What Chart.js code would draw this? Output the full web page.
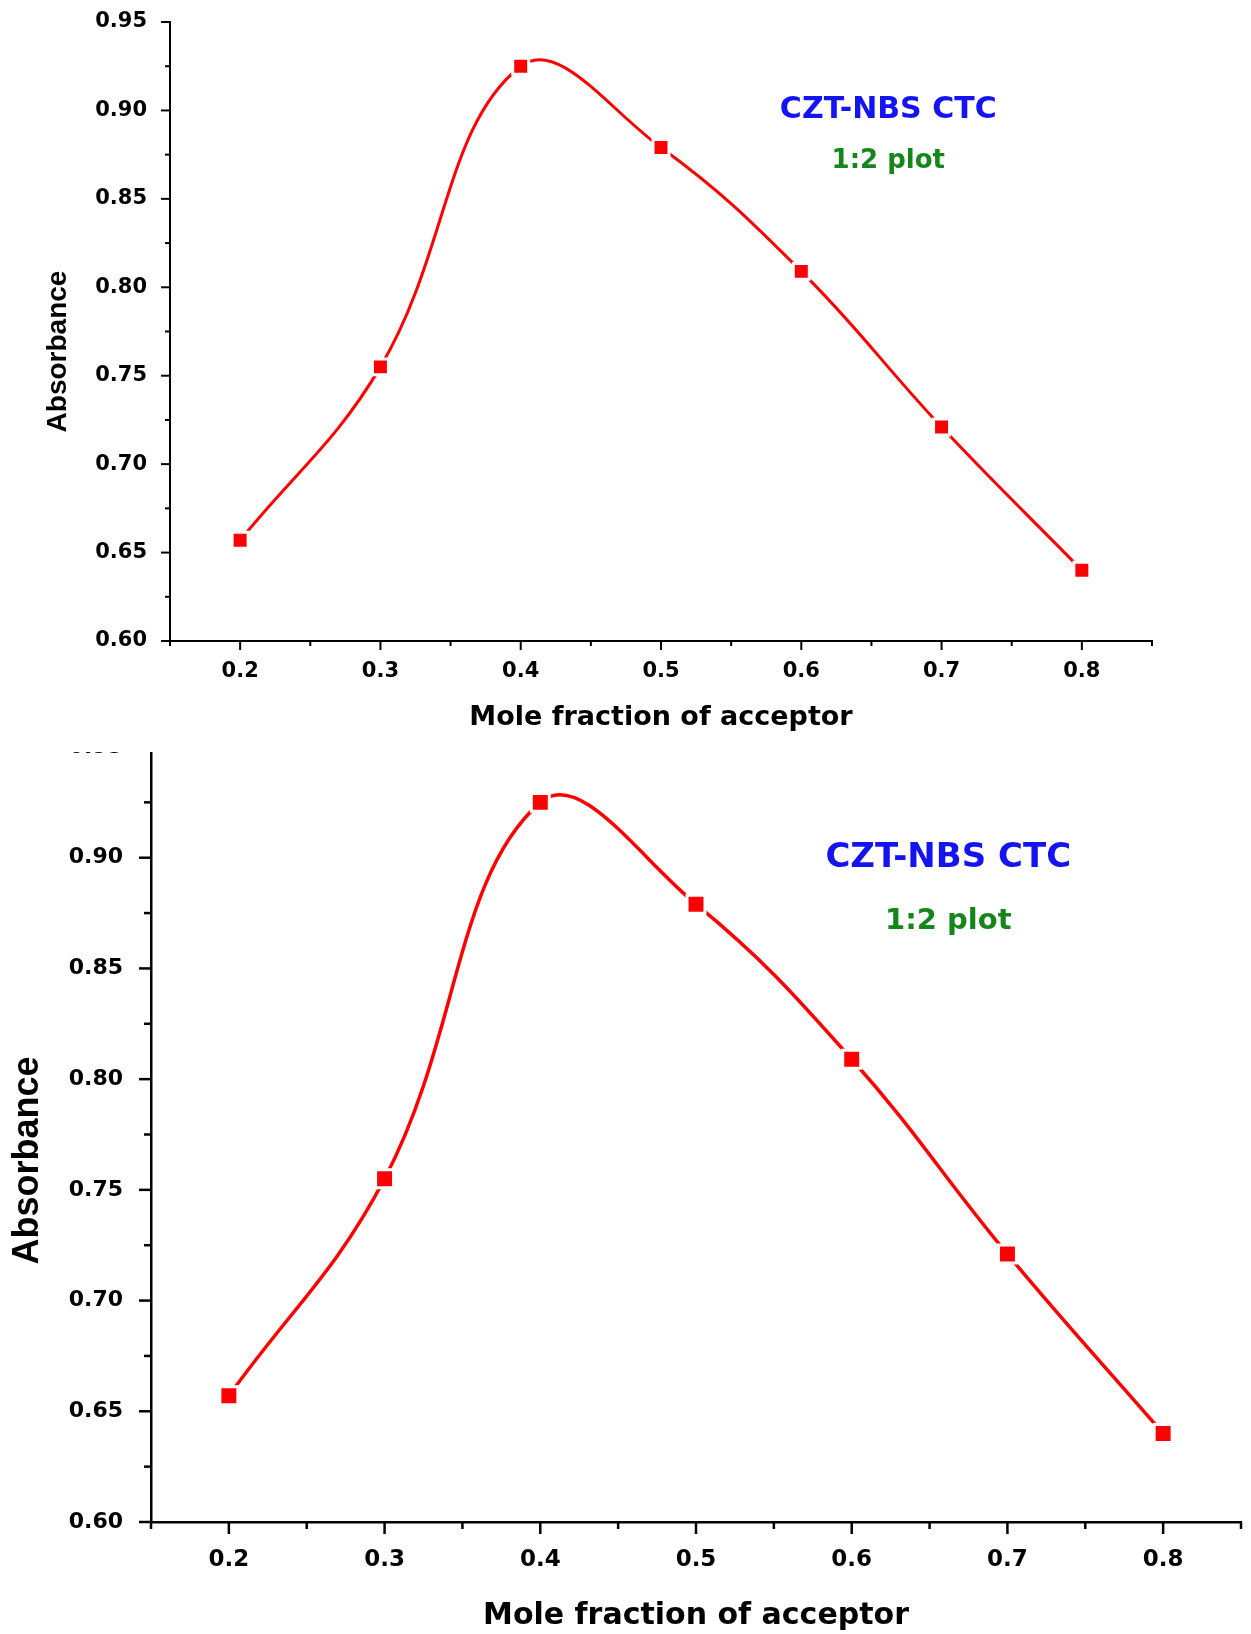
<!DOCTYPE html>
<html lang="en">
<head>
  <meta charset="UTF-8" />
  <title>CZT-NBS CTC | 1:2 plot</title>
  <script src="https://cdn.jsdelivr.net/npm/chart.js"></script>
  <style>
    html, body { margin: 0; padding: 0; background: #fff; }
    body { width: 1251px; height: 1634px; position: relative; overflow: hidden; }
    .panel { position: absolute; left: 0; width: 1251px; background: #fff; overflow: hidden; }
    /* top plot sits over the clipped top edge of the bottom plot */
    #topPanel { top: 0; height: 752px; z-index: 2; }
    #bottomPanel { top: 700px; height: 934px; z-index: 1; }
  </style>
</head>
<body>

  <div id="topPanel" class="panel"><canvas id="topChart"></canvas></div>
  <div id="bottomPanel" class="panel"><canvas id="bottomChart"></canvas></div>

<script>
  // data (both panels show the same series)
  const moleFraction = [0.2, 0.3, 0.4, 0.5, 0.6, 0.7, 0.8];
  const absorbance = [0.657, 0.755, 0.925, 0.879, 0.809, 0.721, 0.640];

  const xTickLabels = ['0.2', '0.3', '0.4', '0.5', '0.6', '0.7', '0.8'];
  const yTickLabels = ['0.60', '0.65', '0.70', '0.75', '0.80', '0.85', '0.90', '0.95'];

  const noteText = ['CZT-NBS CTC', '1:2 plot'];
  const noteColor = ['#1414f0', '#15861a'];
  const noteX = [0.662, 0.662];
  const noteY = [0.900, 0.871];

  function isMajor(v, step) {
    const r = v / step;
    return Math.abs(r - Math.round(r)) < 1e-6;
  }

  // Origin-style outward ticks (major + minor), y title and the text notes
  const originAxes = {
    id: 'originAxes',
    afterDraw(chart, args, opts) {
      const ctx = chart.ctx;
      const { x, y } = chart.scales;
      const area = chart.chartArea;
      ctx.save();
      ctx.strokeStyle = '#000';
      ctx.lineWidth = opts.tickWidth;

      x.ticks.forEach(t => {
        const px = x.getPixelForValue(t.value);
        const len = isMajor(t.value, 0.1) ? opts.major : opts.minor;
        ctx.beginPath();
        ctx.moveTo(px, area.bottom);
        ctx.lineTo(px, area.bottom + len);
        ctx.stroke();
      });
      y.ticks.forEach(t => {
        const py = y.getPixelForValue(t.value);
        const len = isMajor(t.value, 0.05) ? opts.major : opts.minor;
        ctx.beginPath();
        ctx.moveTo(area.left, py);
        ctx.lineTo(area.left - len, py);
        ctx.stroke();
      });

      // y axis title
      ctx.save();
      ctx.translate(opts.yTitleX, (area.top + area.bottom) / 2 + opts.yTitleShift);
      ctx.rotate(-Math.PI / 2);
      ctx.font = `bold ${opts.yTitleSize}px "Liberation Sans", Arial, sans-serif`;
      ctx.fillStyle = '#000';
      ctx.textAlign = 'center';
      ctx.textBaseline = 'middle';
      ctx.fillText('Absorbance', 0, 0);
      ctx.restore();

      // notes
      ctx.textAlign = 'center';
      ctx.textBaseline = 'middle';
      noteText.forEach((txt, i) => {
        ctx.font = `bold ${opts.noteSizes[i]}px "DejaVu Sans", sans-serif`;
        ctx.fillStyle = noteColor[i];
        ctx.fillText(txt, x.getPixelForValue(noteX[i]), y.getPixelForValue(noteY[i]));
      });
      ctx.restore();
    }
  };

  function makeChart(id, c) {
    const canvas = document.getElementById(id);
    canvas.width = c.W;
    canvas.height = c.H;

    const points = moleFraction.map((m, i) => ({ x: m, y: absorbance[i] }));

    return new Chart(canvas.getContext('2d'), {
      type: 'line',
      data: {
        datasets: [{
          data: points,
          borderColor: '#ff0000',
          borderWidth: c.lineWidth,
          tension: 0.4,
          fill: false,
          pointStyle: 'rect',
          pointRadius: c.pointRadius,
          pointHoverRadius: c.pointRadius,
          pointBackgroundColor: '#ff0000',
          pointBorderColor: '#ffffff',
          pointBorderWidth: 3
        }]
      },
      options: {
        responsive: false,
        animation: false,
        events: [],
        layout: {
          padding: { left: 0, top: c.area.top, right: c.W - c.area.right, bottom: 0 }
        },
        scales: {
          x: {
            type: 'linear',
            min: 0.15,
            max: 0.85,
            afterFit: s => {
              s.height = c.H - c.area.bottom;
              s.paddingLeft = 0;
              s.paddingRight = 0;
            },
            grid: { display: false, drawTicks: false },
            border: { display: true, color: '#000', width: c.axisWidth },
            ticks: {
              stepSize: 0.05,
              autoSkip: false,
              maxRotation: 0,
              padding: c.xTickPad,
              color: '#000',
              font: { family: 'DejaVu Sans', weight: 'bold', size: c.xTickSize },
              callback: v => {
                const s = v.toFixed(1);
                return isMajor(v, 0.1) && xTickLabels.includes(s) ? s : '';
              }
            },
            title: {
              display: true,
              text: 'Mole fraction of acceptor',
              color: '#000',
              font: { family: 'DejaVu Sans', weight: 'bold', size: c.xTitleSize },
              padding: { top: 0, bottom: c.xTitlePad }
            }
          },
          y: {
            min: 0.60,
            max: 0.95,
            afterFit: s => {
              s.width = c.area.left;
              s.paddingTop = 0;
              s.paddingBottom = 0;
            },
            grid: { display: false, drawTicks: false },
            border: { display: true, color: '#000', width: c.axisWidth },
            ticks: {
              stepSize: 0.025,
              autoSkip: false,
              padding: c.yTickPad,
              color: '#000',
              font: { family: 'DejaVu Sans', weight: 'bold', size: c.yTickSize },
              callback: v => {
                const s = v.toFixed(2);
                return isMajor(v, 0.05) && yTickLabels.includes(s) ? s : '';
              }
            }
          }
        },
        plugins: {
          legend: { display: false },
          tooltip: { enabled: false },
          originAxes: {
            tickWidth: c.tickWidth,
            major: c.major,
            minor: c.minor,
            yTitleX: c.yTitleX,
            yTitleShift: c.yTitleShift,
            yTitleSize: c.yTitleSize,
            noteSizes: c.noteSizes
          }
        }
      },
      plugins: [originAxes]
    });
  }

  makeChart('topChart', {
    W: 1251, H: 752,
    area: { left: 170, top: 22, right: 1152, bottom: 641 },
    lineWidth: 3, pointRadius: 11.3, axisWidth: 2, tickWidth: 2, major: 9, minor: 5,
    xTickSize: 21, yTickSize: 21, xTickPad: 18, yTickPad: 23,
    xTitleSize: 27, xTitlePad: 18,
    yTitleX: 58, yTitleShift: 20, yTitleSize: 28,
    noteSizes: [30, 26]
  });

  // canvas a bit wider than the page: the point overflow keeps ~16px free on the right
  makeChart('bottomChart', {
    W: 1257, H: 934,
    area: { left: 151, top: 47, right: 1241, bottom: 822 },
    lineWidth: 3.5, pointRadius: 12.7, axisWidth: 2.5, tickWidth: 2.5, major: 12, minor: 7,
    xTickSize: 23, yTickSize: 22, xTickPad: 24, yTickPad: 28,
    xTitleSize: 30, xTitlePad: 0,
    yTitleX: 28, yTitleShift: 26, yTitleSize: 36,
    noteSizes: [34, 29]
  });
</script>
</body>
</html>
